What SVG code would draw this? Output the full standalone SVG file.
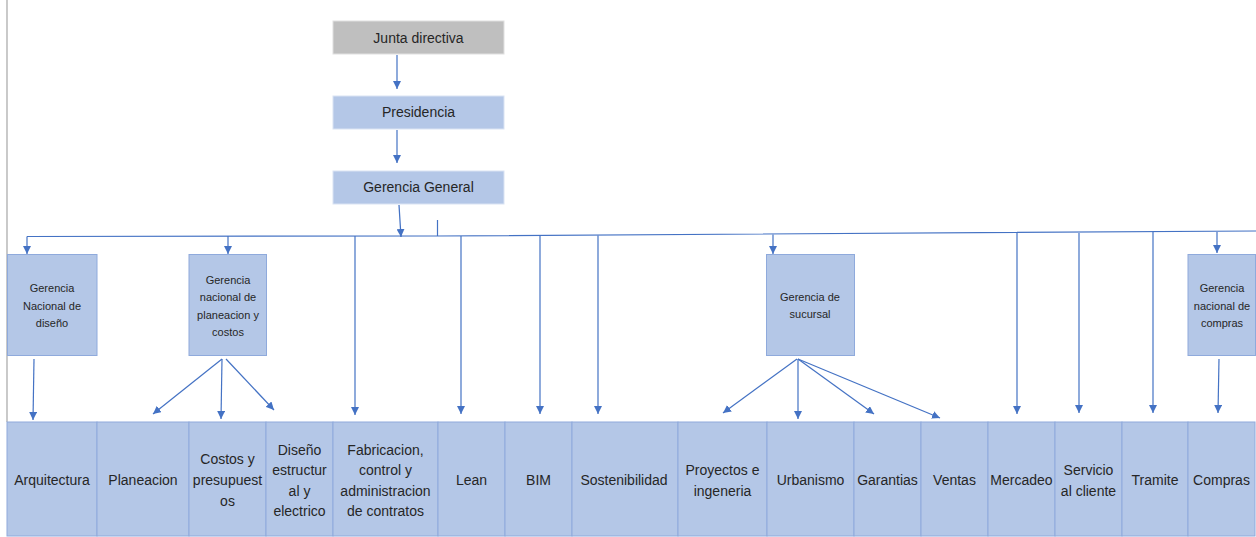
<svg xmlns="http://www.w3.org/2000/svg" width="1256" height="537" viewBox="0 0 1256 537">
<style>
.top{fill:#b4c7e7;stroke:#dae3f3;stroke-width:1}
.gray{fill:#bfbfbf;stroke:#e0e0e0;stroke-width:1}
.mid{fill:#b4c7e7;stroke:#8faadc;stroke-width:1}
.cell{fill:#b4c7e7;stroke:#8faadc;stroke-width:1}
.t{font-family:"Liberation Sans",Arial,sans-serif;font-size:14px;fill:#262626;text-anchor:middle;dominant-baseline:central}
.s{font-family:"Liberation Sans",Arial,sans-serif;font-size:11px;fill:#262626;text-anchor:middle;dominant-baseline:central}
.c{stroke:#4472c4;stroke-width:1.2;fill:none}
.a{stroke:#4472c4;stroke-width:1.2;fill:none;marker-end:url(#ah)}
</style>
<defs>
<marker id="ah" markerUnits="userSpaceOnUse" markerWidth="8" markerHeight="8" refX="7" refY="3.5" orient="auto" viewBox="0 0 7 7">
<path d="M0,0 L7,3.5 L0,7 z" fill="#4472c4"/>
</marker>
</defs>
<rect x="0" y="0" width="1256" height="537" fill="#ffffff"/>
<line x1="7" y1="0" x2="7" y2="422" stroke="#a6a6a6" stroke-width="1.2"/>

<g id="connectors">
<line class="a" x1="397" y1="55" x2="397" y2="89"/>
<line class="a" x1="397" y1="130" x2="397" y2="163"/>
<line class="a" x1="399" y1="205" x2="401" y2="237"/>
<polyline class="c" points="27,236.5 437,236 1256,231"/>
<line class="c" x1="437.5" y1="220" x2="437.5" y2="236"/>
<line class="a" x1="27" y1="236.5" x2="27" y2="254"/>
<line class="a" x1="228" y1="236" x2="228" y2="254"/>
<line class="a" x1="355" y1="236" x2="355" y2="415"/>
<line class="a" x1="461" y1="236" x2="461" y2="414"/>
<line class="a" x1="540" y1="235.5" x2="540" y2="414"/>
<line class="a" x1="598" y1="235.5" x2="598" y2="414"/>
<line class="a" x1="773" y1="234.5" x2="773" y2="254"/>
<line class="a" x1="1017" y1="233" x2="1017" y2="414"/>
<line class="a" x1="1079" y1="233" x2="1079" y2="413"/>
<line class="a" x1="1153" y1="232" x2="1153" y2="413"/>
<line class="a" x1="1217" y1="232" x2="1217" y2="253"/>
<line class="a" x1="34" y1="359" x2="33" y2="420"/>
<line class="a" x1="222" y1="359" x2="153" y2="414"/>
<line class="a" x1="222" y1="359" x2="221" y2="419"/>
<line class="a" x1="226" y1="359" x2="274" y2="410"/>
<line class="a" x1="797" y1="359" x2="723" y2="413"/>
<line class="a" x1="798" y1="359" x2="798" y2="419"/>
<line class="a" x1="798" y1="359" x2="874" y2="414"/>
<line class="a" x1="798" y1="359" x2="940" y2="418"/>
<line class="a" x1="1219" y1="359" x2="1218" y2="413"/>
</g>

<g id="junta"><rect class="gray" x="333" y="21" width="171" height="33"/><text class="t" x="418.5" y="38">Junta directiva</text></g>
<g id="presidencia"><rect class="top" x="333" y="96" width="171" height="33"/><text class="t" x="418.5" y="112">Presidencia</text></g>
<g id="gerencia-general"><rect class="top" x="333" y="171" width="171" height="33"/><text class="t" x="418.5" y="187">Gerencia General</text></g>

<g id="g-diseno"><rect class="mid" x="7.5" y="254.5" width="89.5" height="101"/>
<text class="s" x="52" y="288">Gerencia</text><text class="s" x="52" y="306">Nacional de</text><text class="s" x="52" y="323">diseño</text></g>
<g id="g-planeacion"><rect class="mid" x="189" y="254.5" width="77.5" height="101"/>
<text class="s" x="228" y="280">Gerencia</text><text class="s" x="228" y="297">nacional de</text><text class="s" x="228" y="315">planeacion y</text><text class="s" x="228" y="332">costos</text></g>
<g id="g-sucursal"><rect class="mid" x="766.5" y="254.5" width="88" height="101"/>
<text class="s" x="810" y="297">Gerencia de</text><text class="s" x="810" y="314">sucursal</text></g>
<g id="g-compras"><rect class="mid" x="1188" y="254.5" width="67.5" height="101"/>
<text class="s" x="1222" y="288">Gerencia</text><text class="s" x="1222" y="306">nacional de</text><text class="s" x="1222" y="323">compras</text></g>

<g id="arquitectura"><rect class="cell" x="7" y="422" width="90" height="114"/><text class="t" x="52" y="480">Arquitectura</text></g>
<g id="planeacion"><rect class="cell" x="97" y="422" width="92" height="114"/><text class="t" x="143" y="480">Planeacion</text></g>
<g id="costos"><rect class="cell" x="189" y="422" width="77" height="114"/><text class="t" x="227.5" y="459">Costos y</text><text class="t" x="227.5" y="480">presupuest</text><text class="t" x="227.5" y="501">os</text></g>
<g id="diseno-estructural"><rect class="cell" x="266" y="422" width="67" height="114"/><text class="t" x="299.5" y="450">Diseño</text><text class="t" x="299.5" y="470">estructur</text><text class="t" x="299.5" y="491">al y</text><text class="t" x="299.5" y="511">electrico</text></g>
<g id="fabricacion"><rect class="cell" x="333" y="422" width="105" height="114"/><text class="t" x="385.5" y="450">Fabricacion,</text><text class="t" x="385.5" y="470">control y</text><text class="t" x="385.5" y="491">administracion</text><text class="t" x="385.5" y="511">de contratos</text></g>
<g id="lean"><rect class="cell" x="438" y="422" width="67" height="114"/><text class="t" x="471.5" y="480">Lean</text></g>
<g id="bim"><rect class="cell" x="505" y="422" width="67" height="114"/><text class="t" x="538.5" y="480">BIM</text></g>
<g id="sostenibilidad"><rect class="cell" x="572" y="422" width="106" height="114"/><text class="t" x="624" y="480">Sostenibilidad</text></g>
<g id="proyectos"><rect class="cell" x="678" y="422" width="89" height="114"/><text class="t" x="722.5" y="470">Proyectos e</text><text class="t" x="722.5" y="491">ingeneria</text></g>
<g id="urbanismo"><rect class="cell" x="767" y="422" width="87" height="114"/><text class="t" x="810.5" y="480">Urbanismo</text></g>
<g id="garantias"><rect class="cell" x="854" y="422" width="67" height="114"/><text class="t" x="887.5" y="480">Garantias</text></g>
<g id="ventas"><rect class="cell" x="921" y="422" width="67" height="114"/><text class="t" x="954.5" y="480">Ventas</text></g>
<g id="mercadeo"><rect class="cell" x="988" y="422" width="67" height="114"/><text class="t" x="1021.5" y="480">Mercadeo</text></g>
<g id="servicio"><rect class="cell" x="1055" y="422" width="67" height="114"/><text class="t" x="1088.5" y="470">Servicio</text><text class="t" x="1088.5" y="491">al cliente</text></g>
<g id="tramite"><rect class="cell" x="1122" y="422" width="66" height="114"/><text class="t" x="1155" y="480">Tramite</text></g>
<g id="compras"><rect class="cell" x="1188" y="422" width="67" height="114"/><text class="t" x="1221.5" y="480">Compras</text></g>
</svg>
